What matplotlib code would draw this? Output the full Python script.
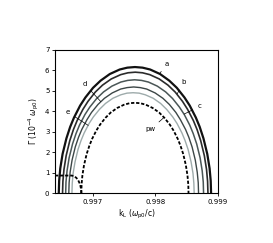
import matplotlib
matplotlib.use('Agg')
import matplotlib.pyplot as plt

# growth rate curves (k_L in omega_p0/c, Gamma in 1e-4 omega_p0)
k_a = [0.99646, 0.996466, 0.996484, 0.996521, 0.996582, 0.996642, 0.996703, 0.9968, 0.996885, 0.997007,
       0.997128, 0.997274, 0.997432, 0.997553, 0.997675, 0.997797, 0.997918, 0.998076, 0.998222, 0.998343,
       0.998465, 0.99855, 0.998647, 0.998708, 0.998768, 0.998829, 0.998866, 0.998884, 0.99889]
g_a = [0, 0.61, 1.22, 1.92, 2.68, 3.24, 3.69, 4.27, 4.67, 5.14, 5.49, 5.81, 6.03, 6.12, 6.15,
       6.12, 6.03, 5.81, 5.49, 5.14, 4.67, 4.27, 3.69, 3.24, 2.68, 1.92, 1.22, 0.61, 0]

k_b = [0.99652, 0.996526, 0.996543, 0.996578, 0.996636, 0.996694, 0.996752, 0.996845, 0.996926, 0.997042,
       0.997158, 0.997297, 0.997448, 0.997564, 0.99768, 0.997796, 0.997912, 0.998063, 0.998202, 0.998318,
       0.998434, 0.998515, 0.998608, 0.998666, 0.998724, 0.998782, 0.998817, 0.998834, 0.99884]
g_b = [0, 0.59, 1.17, 1.84, 2.57, 3.11, 3.54, 4.09, 4.48, 4.93, 5.27, 5.57, 5.78, 5.87, 5.9,
       5.87, 5.78, 5.57, 5.27, 4.93, 4.48, 4.09, 3.54, 3.11, 2.57, 1.84, 1.17, 0.59, 0]

k_c = [0.99657, 0.996575, 0.996592, 0.996625, 0.99668, 0.996735, 0.99679, 0.996878, 0.996955, 0.997065,
       0.997175, 0.997307, 0.99745, 0.99756, 0.99767, 0.99778, 0.99789, 0.998033, 0.998165, 0.998275,
       0.998385, 0.998462, 0.99855, 0.998605, 0.99866, 0.998715, 0.998748, 0.998765, 0.99877]
g_c = [0, 0.55, 1.10, 1.73, 2.41, 2.91, 3.32, 3.84, 4.20, 4.62, 4.94, 5.22, 5.42, 5.50, 5.53,
       5.50, 5.42, 5.22, 4.94, 4.62, 4.20, 3.84, 3.32, 2.91, 2.41, 1.73, 1.10, 0.55, 0]

k_d = [0.99662, 0.996625, 0.996641, 0.996672, 0.996723, 0.996775, 0.996827, 0.99691, 0.996982, 0.997086,
       0.997189, 0.997313, 0.997448, 0.997551, 0.997655, 0.997759, 0.997862, 0.997997, 0.998121, 0.998224,
       0.998328, 0.9984, 0.998483, 0.998535, 0.998587, 0.998638, 0.998669, 0.998685, 0.99869]
g_d = [0, 0.52, 1.03, 1.62, 2.26, 2.73, 3.11, 3.59, 3.94, 4.33, 4.63, 4.89, 5.08, 5.15, 5.18,
       5.15, 5.08, 4.89, 4.63, 4.33, 3.94, 3.59, 3.11, 2.73, 2.26, 1.62, 1.03, 0.52, 0]

k_e = [0.99667, 0.996675, 0.996689, 0.996719, 0.996767, 0.996816, 0.996865, 0.996943, 0.997011, 0.997109,
       0.997206, 0.997323, 0.99745, 0.997548, 0.997645, 0.997743, 0.99784, 0.997967, 0.998084, 0.998181,
       0.998279, 0.998347, 0.998425, 0.998474, 0.998523, 0.998571, 0.998601, 0.998615, 0.99862]
g_e = [0, 0.49, 0.98, 1.53, 2.14, 2.58, 2.94, 3.40, 3.72, 4.09, 4.38, 4.63, 4.80, 4.88, 4.9,
       4.88, 4.80, 4.63, 4.38, 4.09, 3.72, 3.40, 2.94, 2.58, 2.14, 1.53, 0.98, 0.49, 0]

k_pw = [0.99682, 0.996824, 0.996837, 0.996863, 0.996905, 0.996948, 0.996991, 0.997059, 0.997119, 0.997205,
        0.99729, 0.997393, 0.997504, 0.99759, 0.997675, 0.99776, 0.997846, 0.997957, 0.99806, 0.998145,
        0.998231, 0.998291, 0.998359, 0.998402, 0.998445, 0.998487, 0.998513, 0.998526, 0.99853]
g_pw = [0, 0.44, 0.88, 1.38, 1.92, 2.32, 2.65, 3.06, 3.35, 3.68, 3.94, 4.16, 4.32, 4.39, 4.41,
        4.39, 4.32, 4.16, 3.94, 3.68, 3.35, 3.06, 2.65, 2.32, 1.92, 1.38, 0.88, 0.44, 0]

# low branch of the plane-wave curve
k_pw_lo = [0.9964, 0.99655, 0.99666, 0.9967, 0.99674, 0.99677, 0.99679, 0.996805, 0.996815, 0.99682]
g_pw_lo = [0.87, 0.87, 0.87, 0.85, 0.76, 0.64, 0.51, 0.37, 0.22, 0]

# curve labels: text position and leader end
labels = ['a', 'b', 'c', 'd', 'e', 'pw']
lab_xy = [(0.99818, 6.3), (0.99845, 5.4), (0.99870, 4.23), (0.99687, 5.33), (0.99661, 3.94), (0.99793, 3.13)]
lab_to = [(0.99807, 5.83), (0.99835, 4.85), (0.99846, 3.86), (0.99713, 4.47), (0.99693, 3.31), (0.99814, 3.70)]

fig = plt.figure(figsize=(2.73, 2.43), dpi=100)
ax = fig.add_axes([0.2015, 0.204, 0.597, 0.592])

ax.plot(k_a, g_a, color='#111111', lw=1.6)
ax.plot(k_b, g_b, color='#2b2b2b', lw=1.2)
ax.plot(k_c, g_c, color='#4a5656', lw=1.1)
ax.plot(k_d, g_d, color='#3c4646', lw=1.0)
ax.plot(k_e, g_e, color='#9eabab', lw=1.0)
ax.plot(k_pw, g_pw, color='black', lw=1.3, dashes=(1.8, 1.0))
ax.plot(k_pw_lo, g_pw_lo, color='black', lw=1.3, dashes=(1.8, 1.0))

for t, p, q in zip(labels, lab_xy, lab_to):
    ax.annotate(t, xy=q, xytext=p, fontsize=5, ha='center', va='center',
                arrowprops=dict(arrowstyle='-', lw=0.5, color='black', shrinkA=1.5, shrinkB=0))

ax.set_xlim(0.9964, 0.999)
ax.set_ylim(0, 7)
ax.set_xticks([0.997, 0.998, 0.999])
ax.set_xticklabels(['0.997', '0.998', '0.999'])
ax.set_yticks(range(0, 8))
ax.tick_params(labelsize=5, length=2.5, width=0.6, pad=1.5)
for s in ax.spines.values():
    s.set_linewidth(0.8)

ax.set_xlabel(r'k$_\mathregular{L}$ ($\omega_\mathregular{p0}$/c)', fontsize=5.5, labelpad=2)
ax.set_ylabel(r'$\Gamma$ (10$^{-4}$ $\omega_\mathregular{p0}$)', fontsize=5.5, labelpad=3)

fig.savefig('out.png', dpi=100)
